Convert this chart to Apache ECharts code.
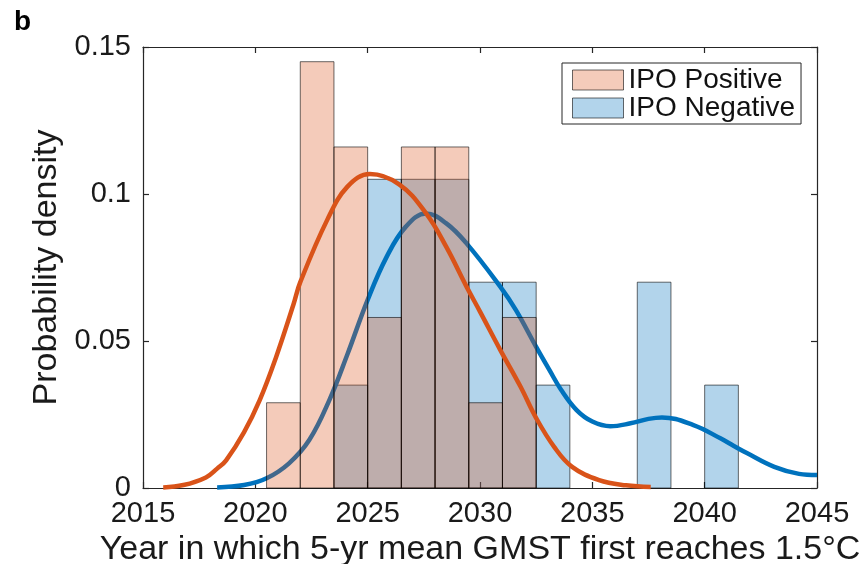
<!DOCTYPE html>
<html>
<head>
<meta charset="utf-8">
<script src="https://cdn.jsdelivr.net/npm/echarts@6/dist/echarts.min.js"></script>
<style>
html,body{margin:0;padding:0;background:#fff;}
#chart{width:867px;height:564px;}
</style>
</head>
<body>
<div id="chart"></div>
<script>
// ---- data ----
const binWidth = 1.5;
const posBinStart = [2020.5, 2022, 2023.5, 2025, 2026.5, 2028, 2029.5, 2031];
const posDensity  = [0.029, 0.145, 0.116, 0.058, 0.116, 0.116, 0.029, 0.058];
const negBinStart = [2023.5, 2025, 2026.5, 2028, 2029.5, 2031, 2032.5, 2037, 2040];
const negDensity  = [0.035, 0.105, 0.105, 0.105, 0.070, 0.070, 0.035, 0.070, 0.035];

const posCurveYears = [2015.9, 2016.8, 2017.8, 2018.3, 2018.7, 2019.5, 2020.2, 2020.9, 2021.7, 2022.0, 2023.2, 2024.1, 2025.1, 2026.4, 2027.6, 2028.5, 2029.4, 2030.0, 2030.9, 2031.8, 2032.5, 2033.3, 2034.1, 2035.3, 2036.5, 2037.6];
const posCurveDens  = [0.0002, 0.001, 0.0036, 0.0066, 0.0094, 0.0190, 0.030, 0.0440, 0.0625, 0.0700, 0.0912, 0.1025, 0.1068, 0.1033, 0.0934, 0.082, 0.0685, 0.060, 0.047, 0.0345, 0.0238, 0.0140, 0.0072, 0.0027, 0.0009, 0.0003];

const negCurveYears = [2018.3, 2019.5, 2020.5, 2021.5, 2022.4, 2023.3, 2024.1, 2025.0, 2025.85, 2026.7, 2027.6, 2028.5, 2029.4, 2030.9, 2031.6, 2032.5, 2033.1, 2033.6, 2034.3, 2035.0, 2035.8, 2036.7, 2037.5, 2038.1, 2039.5, 2040.7, 2041.3, 2041.9, 2043.1, 2044.2, 2045.0];
const negCurveDens  = [0.0002, 0.001, 0.0033, 0.0084, 0.0163, 0.030, 0.0455, 0.064, 0.0787, 0.0889, 0.0934, 0.090, 0.0832, 0.0685, 0.0605, 0.048, 0.0400, 0.0335, 0.0265, 0.0226, 0.0210, 0.0220, 0.0235, 0.0240, 0.0214, 0.0169, 0.0143, 0.0118, 0.0072, 0.0048, 0.0044];

const xTicks = [2015, 2020, 2025, 2030, 2035, 2040, 2045];
const yTicks = [0, 0.05, 0.1, 0.15];
const seriesNames = ['IPO Positive', 'IPO Negative'];
const xTitle = 'Year in which 5-yr mean GMST first reaches 1.5°C';
const yTitle = 'Probability density';
const panelLabel = 'b';

// ---- build ----
const FONT = "'Liberation Sans', Arial, Helvetica, sans-serif";
const ORANGE = '#D95319';
const BLUE = '#0072BD';
const PINK_FILL = 'rgba(217,83,25,0.30)';
const BLUE_FILL = 'rgba(0,114,189,0.30)';
const EDGE = 'rgba(0,0,0,0.58)';
const AXIS = '#262626';

function bins(starts, dens) {
  return starts.map((s, i) => [s, s + binWidth, dens[i]]);
}
function zip(a, b) { return a.map((v, i) => [v, b[i]]); }

function histRender(fill) {
  return function (params, api) {
    const tl = api.coord([api.value(0), api.value(2)]);
    const br = api.coord([api.value(1), 0]);
    return {
      type: 'rect',
      shape: { x: tl[0], y: tl[1], width: br[0] - tl[0], height: br[1] - tl[1] },
      style: { fill: fill, stroke: EDGE, lineWidth: 1 }
    };
  };
}

const chart = echarts.init(document.getElementById('chart'), null, { renderer: 'canvas' });

const xBase = {
  type: 'value', min: xTicks[0], max: xTicks[xTicks.length - 1], interval: 5,
  splitLine: { show: false },
  axisLine: { show: true, onZero: false, lineStyle: { color: AXIS, width: 1.2 } },
  axisTick: { show: true, inside: true, length: 6, lineStyle: { color: AXIS, width: 1.2 } }
};
const yBase = {
  type: 'value', min: yTicks[0], max: yTicks[yTicks.length - 1], interval: 0.05,
  splitLine: { show: false },
  axisLine: { show: true, onZero: false, lineStyle: { color: AXIS, width: 1.2 } },
  axisTick: { show: true, inside: true, length: 6, lineStyle: { color: AXIS, width: 1.2 } }
};

chart.setOption({
  animation: false,
  backgroundColor: '#fff',
  textStyle: { fontFamily: FONT },
  title: {
    text: panelLabel, left: 9, top: 3,
    textStyle: { fontFamily: FONT, fontWeight: 'bold', fontSize: 28, color: '#000' }
  },
  grid: { left: 143, right: 50, top: 47, bottom: 76, containLabel: false, outerBoundsMode: 'none' },
  xAxis: [
    Object.assign({}, xBase, {
      position: 'bottom',
      name: xTitle, nameLocation: 'middle', nameGap: 25,
      nameTextStyle: { fontFamily: FONT, fontSize: 34, color: '#1a1a1a', verticalAlign: 'top' },
      axisLabel: { show: true, margin: 11, fontSize: 29, color: '#1a1a1a', fontFamily: FONT,
        formatter: v => String(v) }
    }),
    Object.assign({}, xBase, { position: 'top', axisLabel: { show: false } })
  ],
  yAxis: [
    Object.assign({}, yBase, {
      position: 'left',
      name: yTitle, nameLocation: 'middle', nameGap: 73, nameRotate: 90,
      nameTextStyle: { fontFamily: FONT, fontSize: 34, color: '#1a1a1a' },
      axisLabel: { show: true, margin: 12, fontSize: 29, color: '#1a1a1a', fontFamily: FONT,
        formatter: v => (yTicks.indexOf(+v.toFixed(2)) >= 0 ? String(+v.toFixed(2)) : '') }
    }),
    Object.assign({}, yBase, { position: 'right', axisLabel: { show: false } })
  ],
  legend: {
    orient: 'vertical', left: 562, top: 63,
    padding: [3, 6, 2, 10], itemGap: 0, itemWidth: 51, itemHeight: 20,
    borderColor: AXIS, borderWidth: 1, backgroundColor: '#fff',
    selectedMode: false,
    textStyle: { fontFamily: FONT, fontSize: 28, color: '#111' },
    data: [
      { name: seriesNames[0], icon: 'rect', itemStyle: { color: PINK_FILL, borderColor: EDGE, borderWidth: 1 } },
      { name: seriesNames[1], icon: 'rect', itemStyle: { color: BLUE_FILL, borderColor: EDGE, borderWidth: 1 } }
    ]
  },
  series: [
    {
      name: seriesNames[1], type: 'custom', z: 1,
      renderItem: histRender(BLUE_FILL),
      itemStyle: { color: BLUE_FILL },
      encode: { x: [0, 1], y: 2 },
      data: bins(negBinStart, negDensity)
    },
    {
      name: 'neg-kde', type: 'line', z: 2, smooth: 0.4, showSymbol: false, symbol: 'none',
      lineStyle: { color: BLUE, width: 4.5 }, itemStyle: { color: BLUE },
      data: zip(negCurveYears, negCurveDens)
    },
    {
      name: seriesNames[0], type: 'custom', z: 3,
      renderItem: histRender(PINK_FILL),
      itemStyle: { color: PINK_FILL },
      encode: { x: [0, 1], y: 2 },
      data: bins(posBinStart, posDensity)
    },
    {
      name: 'pos-kde', type: 'line', z: 4, smooth: 0.4, showSymbol: false, symbol: 'none',
      lineStyle: { color: ORANGE, width: 4.5 }, itemStyle: { color: ORANGE },
      data: zip(posCurveYears, posCurveDens)
    }
  ]
});
</script>
</body>
</html>
